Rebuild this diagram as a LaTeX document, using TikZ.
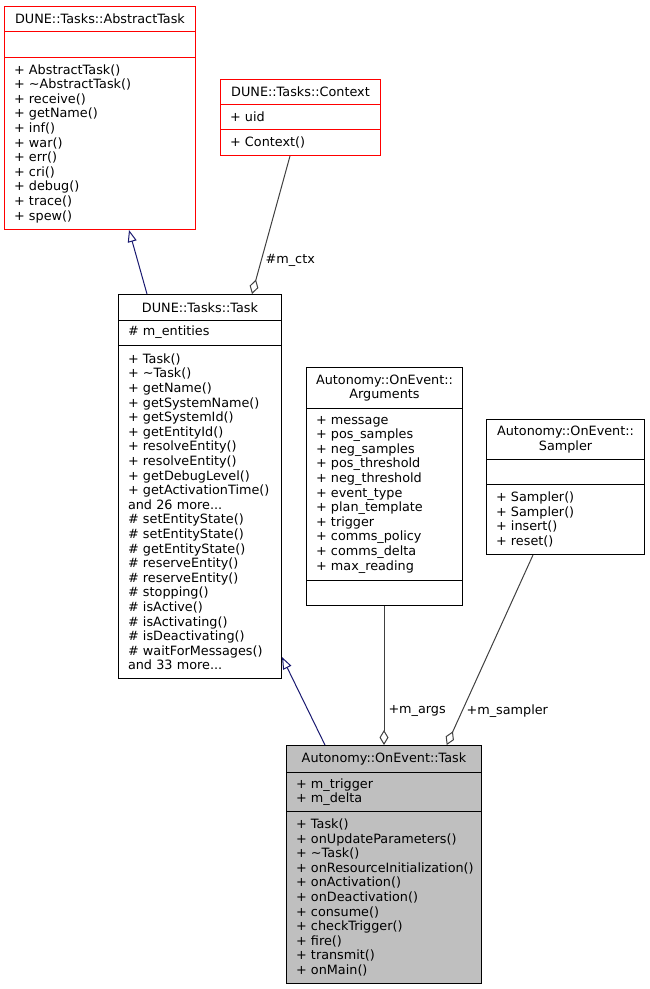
\documentclass[tikz,border=0pt]{standalone}
\usepackage{fontspec}
\setmainfont{DejaVu Sans}
\usetikzlibrary{arrows.meta}
\definecolor{inheritblue}{HTML}{191970}
\definecolor{aggrgrey}{HTML}{404040}
\definecolor{classgrey}{HTML}{BFBFBF}
\hyphenpenalty=10000
\hbadness=10000

\begin{document}
\begin{tikzpicture}[x=1pt, y=-1pt,
    classbox/.style={draw, rectangle, anchor=north west, inner xsep=9.5pt, inner ysep=0pt,
        line width=1pt, align=left, font=\fontsize{12.8}{14.6}\selectfont},
    classtitle/.style={classbox, align=center},
    ext/.style={classbox, draw=red},
    exttitle/.style={classtitle, draw=red},
    inherit/.style={draw=inheritblue, line width=1pt, -{Triangle[open, length=12pt, width=9pt]}},
    aggr/.style={draw=aggrgrey, line width=1pt, -{Diamond[open, length=15pt, width=9pt]}},
    rolelabel/.style={font=\fontsize{12.8}{14.6}\selectfont, anchor=west, inner sep=4pt}]

    \useasboundingbox (0,0) rectangle (649,989);

    % DUNE::Tasks::AbstractTask
    \node[exttitle, text width=172pt, minimum height=25pt] (abstractT) at (4,6) {DUNE::Tasks::AbstractTask};
    \node[ext, text width=172pt, minimum height=26pt] (abstractA) at (4,31) {};
    \node[ext, text width=172pt, minimum height=172pt] (abstractM) at (4,57) {+ AbstractTask()\\+ \textasciitilde AbstractTask()\\+ receive()\\+ getName()\\+ inf()\\+ war()\\+ err()\\+ cri()\\+ debug()\\+ trace()\\+ spew()};

    % DUNE::Tasks::Context
    \node[exttitle, text width=141pt, minimum height=25pt] (contextT) at (220,79) {DUNE::Tasks::Context};
    \node[ext, text width=141pt, minimum height=25pt] (contextA) at (220,104) {+ uid};
    \node[ext, text width=141pt, minimum height=26pt] (contextM) at (220,129) {+ Context()};

    % DUNE::Tasks::Task
    \node[classtitle, text width=144pt, minimum height=25.5pt] (taskT) at (118,294) {DUNE::Tasks::Task};
    \node[classbox, text width=144pt, minimum height=25pt] (taskA) at (118,319.5) {\# m\_entities};
    \node[classbox, text width=144pt, minimum height=333.5pt] (taskM) at (118,344.5) {+ Task()\\+ \textasciitilde Task()\\+ getName()\\+ getSystemName()\\+ getSystemId()\\+ getEntityId()\\+ resolveEntity()\\+ resolveEntity()\\+ getDebugLevel()\\+ getActivationTime()\\and 26 more...\\\# setEntityState()\\\# setEntityState()\\\# getEntityState()\\\# reserveEntity()\\\# reserveEntity()\\\# stopping()\\\# isActive()\\\# isActivating()\\\# isDeactivating()\\\# waitForMessages()\\and 33 more...};

    % Autonomy::OnEvent::Arguments
    \node[classtitle, text width=137pt, minimum height=41pt] (argsT) at (306,367) {Autonomy::OnEvent::\\Arguments};
    \node[classbox, text width=137pt, minimum height=172pt] (argsA) at (306,408) {+ message\\+ pos\_samples\\+ neg\_samples\\+ pos\_threshold\\+ neg\_threshold\\+ event\_type\\+ plan\_template\\+ trigger\\+ comms\_policy\\+ comms\_delta\\+ max\_reading};
    \node[classbox, text width=137pt, minimum height=25pt] (argsM) at (306,580) {};

    % Autonomy::OnEvent::Sampler
    \node[classtitle, text width=139pt, minimum height=40pt] (samplerT) at (486,419) {Autonomy::OnEvent::\\Sampler};
    \node[classbox, text width=139pt, minimum height=25pt] (samplerA) at (486,459) {};
    \node[classbox, text width=139pt, minimum height=70pt] (samplerM) at (486,484) {+ Sampler()\\+ Sampler()\\+ insert()\\+ reset()};

    % Autonomy::OnEvent::Task
    \node[classtitle, fill=classgrey, text width=176pt, minimum height=27pt] (oneventT) at (286,745) {Autonomy::OnEvent::Task};
    \node[classbox, fill=classgrey, text width=176pt, minimum height=39pt] (oneventA) at (286,772) {+ m\_trigger\\+ m\_delta};
    \node[classbox, fill=classgrey, text width=176pt, minimum height=172pt] (oneventM) at (286,811) {+ Task()\\+ onUpdateParameters()\\+ \textasciitilde Task()\\+~onResourceInitialization()\\+ onActivation()\\+ onDeactivation()\\+ consume()\\+ checkTrigger()\\+ fire()\\+ transmit()\\+ onMain()};

    % inheritance
    \draw[inherit] ([xshift=29pt]taskT.north west) -- ([xshift=125pt]abstractM.south west);
    \draw[inherit] ([xshift=39pt]oneventT.north west) -- ([yshift=22pt]taskM.south east);

    % members
    \draw[aggr] ([xshift=70pt]contextM.south west) -- node[rolelabel, pos=0.76] {\#m\_ctx} ([xshift=134pt]taskT.north west);
    \draw[aggr] ([xshift=78pt]argsM.south west) -- node[rolelabel, pos=0.757] {+m\_args} ([xshift=98pt]oneventT.north west);
    \draw[aggr] ([xshift=47pt]samplerM.south west) -- node[rolelabel, pos=0.822] {+m\_sampler} ([xshift=160.7pt]oneventT.north west);

\end{tikzpicture}
\end{document}
